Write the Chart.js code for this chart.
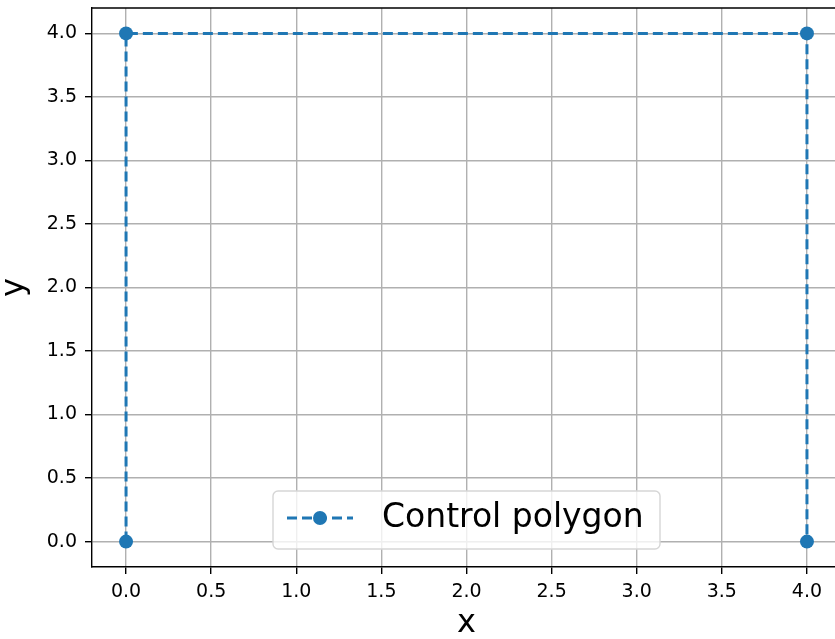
<!DOCTYPE html>
<html>
<head>
<meta charset="utf-8">
<script src="https://cdn.jsdelivr.net/npm/chart.js@4/dist/chart.umd.min.js"></script>
<style>
  html, body { margin: 0; padding: 0; overflow: hidden; background: #fff; }
  #wrap { width: 850px; height: 639px; }
</style>
</head>
<body>
<div id="wrap"><canvas id="poly" width="850" height="639"></canvas></div>
<script>
// control polygon points
var xs = [0, 0, 4, 4];
var ys = [0, 4, 4, 0];
var xTicks = [0, 0.5, 1, 1.5, 2, 2.5, 3, 3.5, 4];
var yTicks = [0, 0.5, 1, 1.5, 2, 2.5, 3, 3.5, 4];
var seriesName = "Control polygon";

var blue = "#1f77b4";
var font = "'DejaVu Sans', sans-serif";

var points = xs.map(function (x, i) { return { x: x, y: ys[i] }; });

// spines on top/right and legend box like matplotlib
var framePlugin = {
  id: "frame",
  afterDraw: function (chart) {
    var ctx = chart.ctx;
    var a = chart.chartArea;
    ctx.save();
    ctx.strokeStyle = "#000";
    ctx.lineWidth = 1.4;
    ctx.beginPath();
    ctx.moveTo(a.left, a.top);
    ctx.lineTo(a.right, a.top);
    ctx.lineTo(a.right, a.bottom);
    ctx.stroke();

    // legend
    var bx = 273, by = 491, bw = 387, bh = 58, r = 5;
    ctx.beginPath();
    ctx.moveTo(bx + r, by);
    ctx.arcTo(bx + bw, by, bx + bw, by + bh, r);
    ctx.arcTo(bx + bw, by + bh, bx, by + bh, r);
    ctx.arcTo(bx, by + bh, bx, by, r);
    ctx.arcTo(bx, by, bx + bw, by, r);
    ctx.closePath();
    ctx.fillStyle = "rgba(255,255,255,0.8)";
    ctx.fill();
    ctx.strokeStyle = "#d6d6d6";
    ctx.lineWidth = 1.4;
    ctx.stroke();

    var ly = 518;
    ctx.strokeStyle = blue;
    ctx.lineWidth = 3;
    ctx.setLineDash([10, 5]);
    ctx.beginPath();
    ctx.moveTo(287, ly);
    ctx.lineTo(353, ly);
    ctx.stroke();
    ctx.setLineDash([]);
    ctx.fillStyle = blue;
    ctx.beginPath();
    ctx.arc(320, ly, 7, 0, Math.PI * 2);
    ctx.fill();

    ctx.fillStyle = "#000";
    ctx.font = "33px " + font;
    ctx.textBaseline = "middle";
    ctx.textAlign = "left";
    ctx.fillText(seriesName, 382, ly);
    ctx.restore();
  }
};

new Chart(document.getElementById("poly"), {
  type: "scatter",
  data: {
    datasets: [
      {
        label: seriesName,
        data: points,
        showLine: true,
        borderColor: blue,
        borderWidth: 3,
        borderDash: [10, 5],
        pointRadius: 7,
        pointHoverRadius: 7,
        pointBackgroundColor: blue,
        pointBorderWidth: 0,
        clip: false,
      },
    ],
  },
  options: {
    responsive: false,
    animation: false,
    events: [],
    layout: { padding: { top: 8, right: 9, left: 0, bottom: 0 } },
    plugins: { legend: { display: false }, tooltip: { enabled: false } },
    scales: {
      x: {
        type: "linear",
        min: -0.2,
        max: 4.2,
        afterBuildTicks: function (s) { s.ticks = xTicks.map(function (v) { return { value: v }; }); },
        afterFit: function (s) { s.height = 72; s.paddingLeft = 0; s.paddingRight = 0; },
        grid: { color: "#b0b0b0", lineWidth: 1.4, tickColor: "#000", tickLength: 7, tickWidth: 1.4 },
        border: { color: "#000", width: 1.4 },
        ticks: {
          color: "#000",
          font: { family: font, size: 19 },
          padding: 7,
          maxRotation: 0,
          callback: function (v) { return v.toFixed(1); },
        },
        title: { display: true, text: "x", color: "#000", font: { family: font, size: 32 }, padding: { top: 0, bottom: -4 } },
      },
      y: {
        type: "linear",
        min: -0.2,
        max: 4.2,
        afterBuildTicks: function (s) { s.ticks = yTicks.map(function (v) { return { value: v }; }); },
        afterFit: function (s) { s.width = 92; s.paddingTop = 0; s.paddingBottom = 0; },
        grid: { color: "#b0b0b0", lineWidth: 1.4, tickColor: "#000", tickLength: 7, tickWidth: 1.4 },
        border: { color: "#000", width: 1.4 },
        ticks: {
          color: "#000",
          font: { family: font, size: 19 },
          padding: 8,
          callback: function (v) { return v.toFixed(1); },
        },
        title: { display: true, text: "y", color: "#000", font: { family: font, size: 32 }, padding: { top: -5, bottom: 0 } },
      },
    },
  },
  plugins: [framePlugin],
});
</script>
</body>
</html>
